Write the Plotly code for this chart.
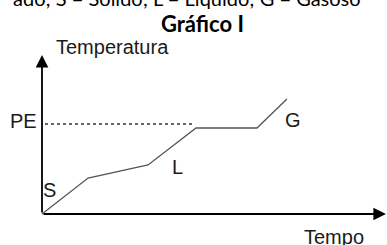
import plotly.graph_objects as go

# Data (arbitrary units)
tempo = [0, 3.07, 7.07, 10.27, 14.33, 16.33]
temperatura = [0, 18, 24.5, 43, 43, 57.5]
pe_level = 45
pe_span = [0.2, 10.07]
phase_labels = ["S", "L", "G"]
phase_x = [0.53, 9.0, 16.73]
phase_y = [12, 23.75, 47.25]
x_axis_end = 22.93
y_axis_end = 79.5

fig = go.Figure()

# dotted PE line
fig.add_trace(go.Scatter(x=pe_span, y=[pe_level, pe_level], mode="lines",
                         line=dict(color="#333333", width=1.6, dash="dot"),
                         hoverinfo="skip"))
# heating curve
fig.add_trace(go.Scatter(x=tempo, y=temperatura, mode="lines",
                         line=dict(color="#555555", width=1.3),
                         hoverinfo="skip"))

lbl_font = dict(family="Liberation Sans, Arial, sans-serif", size=20, color="#1a1a1a")

# axes with arrows
fig.add_annotation(x=x_axis_end, y=0, ax=0, ay=0, xref="x", yref="y", axref="x", ayref="y",
                   text="", showarrow=True, arrowhead=2, arrowsize=1.4, arrowwidth=1.8,
                   arrowcolor="black")
fig.add_annotation(x=0, y=y_axis_end, ax=0, ay=0, xref="x", yref="y", axref="x", ayref="y",
                   text="", showarrow=True, arrowhead=2, arrowsize=1.4, arrowwidth=1.8,
                   arrowcolor="black")

for t, xx, yy in zip(phase_labels, phase_x, phase_y):
    fig.add_annotation(x=xx, y=yy, text=t, showarrow=False, font=lbl_font,
                       xanchor="center", yanchor="middle")

fig.add_annotation(x=4.73, y=83.5, text="Temperatura", showarrow=False, font=lbl_font,
                   xanchor="center", yanchor="middle")
fig.add_annotation(x=19.47, y=-11.5, text="Tempo", showarrow=False, font=lbl_font,
                   xanchor="center", yanchor="middle")
fig.add_annotation(x=-1.23, y=46.5, text="PE", showarrow=False, font=lbl_font,
                   xanchor="center", yanchor="middle")

fig.add_annotation(x=202/387, y=1 - 24/245, xref="paper", yref="paper", text="<b>Gráfico I</b>",
                   xanchor="center", yanchor="middle",
                   showarrow=False, font=dict(family="Lato, Carlito, sans-serif", size=22, color="black"))
fig.add_annotation(x=363/387, y=1 - 12/245, xref="paper", yref="paper",
                   xanchor="right", yanchor="bottom",
                   text="ado; S = Sólido; L = Líquido; G = Gasoso",
                   showarrow=False, font=dict(family="Lato, Carlito, sans-serif", size=20, color="black"))

fig.update_layout(
    width=387, height=245,
    margin=dict(l=0, r=0, t=0, b=0),
    paper_bgcolor="white", plot_bgcolor="white",
    showlegend=False,
    xaxis=dict(range=[-2.8, 23.0], visible=False, fixedrange=True),
    yaxis=dict(range=[-15.5, 107.0], visible=False, fixedrange=True),
)

fig.write_html("out.html", config={"displayModeBar": False},
               post_script="document.body.style.margin='0';document.body.style.overflow='hidden';")
